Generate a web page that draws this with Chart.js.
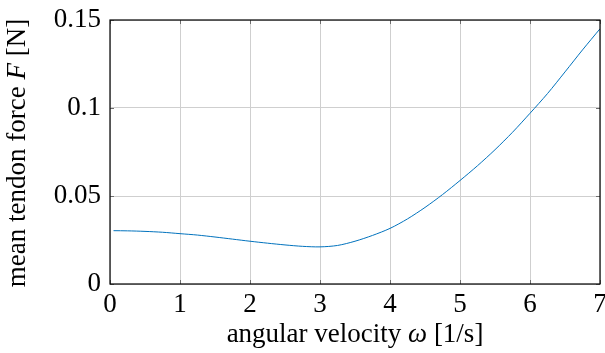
<!DOCTYPE html>
<html>
<head>
<meta charset="utf-8">
<script src="https://cdn.jsdelivr.net/npm/chart.js@4"></script>
<style>
  html, body { margin: 0; padding: 0; background: #fff; }
  #wrap { width: 605px; height: 353px; position: relative; }
</style>
</head>
<body>
<div id="wrap"><canvas id="c" width="605" height="353"></canvas></div>
<script>
// angular velocity ω [1/s]
const omega = [0.05, 0.25, 0.5, 0.75, 1.0, 1.25, 1.5, 1.75, 2.0, 2.25, 2.5, 2.75, 3.0, 3.25, 3.5, 3.75, 4.0, 4.25, 4.5, 4.75, 5.0, 5.25, 5.5, 5.75, 6.0, 6.25, 6.5, 6.75, 7.0];
// mean tendon force F [N]
const force = [0.0303, 0.0302, 0.0299, 0.0294, 0.0286, 0.0278, 0.0267, 0.0255, 0.0243, 0.0232, 0.0222, 0.0214, 0.0211, 0.0219, 0.0243, 0.0276, 0.0316, 0.0370, 0.0435, 0.0508, 0.0588, 0.0672, 0.0763, 0.0862, 0.0970, 0.1082, 0.1205, 0.1330, 0.1450];
const xTicks = [0, 1, 2, 3, 4, 5, 6, 7];
const yTicks = [0, 0.05, 0.1, 0.15];
const xTitle = [["angular velocity ", false], ["ω", true], [" [1/s]", false]];
const yTitle = [["mean tendon force ", false], ["F", true], [" [N]", false]];

const FONT = "'Liberation Serif'";
const TITLE_SIZE = 27;
const TICK_SIZE = 27;

function drawMixed(ctx, parts, size) {
  let total = 0;
  const widths = parts.map(([t, it]) => {
    ctx.font = (it ? "italic " : "") + size + "px " + FONT;
    const w = ctx.measureText(t).width;
    total += w;
    return w;
  });
  let x = -total / 2;
  parts.forEach(([t, it], i) => {
    ctx.font = (it ? "italic " : "") + size + "px " + FONT;
    ctx.fillText(t, x, 0);
    x += widths[i];
  });
}

const framePlugin = {
  id: 'frame',
  afterDraw(chart) {
    const ctx = chart.ctx;
    const a = chart.chartArea;
    const xs = chart.scales.x, ys = chart.scales.y;
    ctx.save();
    ctx.strokeStyle = '#6e6e6e';
    ctx.lineWidth = 1;
    const L = 4;
    xTicks.forEach(v => {
      const px = Math.round(xs.getPixelForValue(v)) + 0.5;
      ctx.beginPath();
      ctx.moveTo(px, a.bottom); ctx.lineTo(px, a.bottom - L);
      ctx.moveTo(px, a.top); ctx.lineTo(px, a.top + L);
      ctx.stroke();
    });
    yTicks.forEach(v => {
      const py = Math.round(ys.getPixelForValue(v)) + 0.5;
      ctx.beginPath();
      ctx.moveTo(a.left, py); ctx.lineTo(a.left + L, py);
      ctx.moveTo(a.right, py); ctx.lineTo(a.right - L, py);
      ctx.stroke();
    });
    ctx.strokeStyle = '#000';
    ctx.lineWidth = 1.2;
    ctx.strokeRect(a.left, a.top, a.right - a.left, a.bottom - a.top);
    ctx.fillStyle = '#000';
    ctx.textBaseline = 'middle';
    ctx.textAlign = 'left';
    ctx.save();
    ctx.translate((a.left + a.right) / 2, 335);
    drawMixed(ctx, xTitle, TITLE_SIZE);
    ctx.restore();
    ctx.save();
    ctx.translate(18, (a.top + a.bottom) / 2 + 1);
    ctx.rotate(-Math.PI / 2);
    drawMixed(ctx, yTitle, TITLE_SIZE);
    ctx.restore();
    ctx.restore();
  }
};

function build() {
  new Chart(document.getElementById('c'), {
    type: 'line',
    data: {
      datasets: [{
        data: omega.map((x, i) => ({ x: x, y: force[i] })),
        borderColor: '#0072BD',
        borderWidth: 1,
        pointRadius: 0,
        fill: false,
        tension: 0.3
      }]
    },
    options: {
      responsive: false,
      animation: false,
      devicePixelRatio: 1,
      layout: { padding: { left: 0, right: 5, top: 20, bottom: 0 } },
      plugins: { legend: { display: false }, tooltip: { enabled: false } },
      scales: {
        x: {
          type: 'linear', min: 0, max: 7,
          afterBuildTicks: s => { s.ticks = xTicks.map(v => ({ value: v })); },
          afterFit: s => { s.height = 69; s.paddingLeft = 0; s.paddingRight = 0; },
          grid: { color: '#cfcfcf', lineWidth: 1, drawTicks: false },
          border: { display: false },
          ticks: { color: '#000', font: { family: FONT, size: TICK_SIZE }, padding: 5, maxRotation: 0, callback: v => String(v) }
        },
        y: {
          type: 'linear', min: 0, max: 0.15,
          afterBuildTicks: s => { s.ticks = yTicks.map(v => ({ value: v })); },
          afterFit: s => { s.width = 110; s.paddingTop = 0; s.paddingBottom = 0; },
          grid: { color: '#cfcfcf', lineWidth: 1, drawTicks: false },
          border: { display: false },
          ticks: { color: '#000', font: { family: FONT, size: TICK_SIZE }, padding: 9, callback: v => String(Number(v.toFixed(2))) }
        }
      }
    },
    plugins: [framePlugin]
  });
}

Promise.all([
  document.fonts.load("27px 'Liberation Serif'"),
  document.fonts.load("italic 27px 'Liberation Serif'")
]).then(build, build);
</script>
</body>
</html>
